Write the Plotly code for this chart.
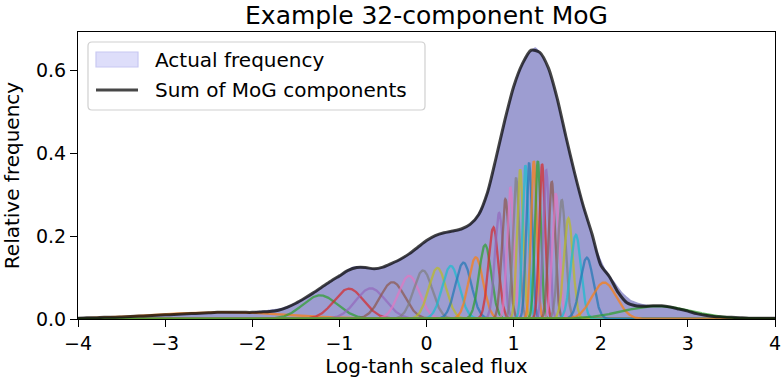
import numpy as np
import plotly.graph_objects as go

# ---------------- data ----------------
# Mixture-of-Gaussian components: centre, peak height, width
comp_means = [-2.35, -1.22, -0.89, -0.64, -0.39, -0.20, -0.04, 0.125, 0.279, 0.424,
              0.566, 0.673, 0.768, 0.834, 0.906, 0.963, 1.029, 1.075, 1.136, 1.178,
              1.232, 1.278, 1.327, 1.373, 1.438, 1.484, 1.553, 1.629, 1.714, 1.840,
              2.039, 2.650]
comp_peaks = [0.0165, 0.057, 0.073, 0.074, 0.089, 0.104, 0.117, 0.123, 0.128, 0.136,
              0.149, 0.179, 0.221, 0.256, 0.289, 0.317, 0.341, 0.361, 0.371, 0.377,
              0.381, 0.381, 0.374, 0.359, 0.331, 0.303, 0.287, 0.243, 0.203, 0.148,
              0.088, 0.031]
comp_sigmas = [0.75, 0.20, 0.17, 0.17, 0.14, 0.12, 0.107, 0.10, 0.098, 0.092,
               0.084, 0.070, 0.057, 0.049, 0.043, 0.039, 0.037, 0.035, 0.034, 0.033,
               0.033, 0.033, 0.033, 0.035, 0.038, 0.041, 0.044, 0.051, 0.060, 0.075,
               0.14, 0.40]

# Sum of MoG components, read along the x axis
sum_x = [round(-4.0 + 0.1 * i, 1) for i in range(81)]
sum_y = [0.002, 0.003, 0.003, 0.004, 0.004, 0.005, 0.006, 0.007, 0.008, 0.009,
         0.010, 0.011, 0.012, 0.013, 0.014, 0.015, 0.016, 0.016, 0.016, 0.016,
         0.016, 0.017, 0.018, 0.021, 0.028, 0.038, 0.050, 0.063, 0.077, 0.091,
         0.104, 0.117, 0.124, 0.124, 0.121, 0.125, 0.134, 0.144, 0.157, 0.173,
         0.189, 0.201, 0.208, 0.212, 0.217, 0.228, 0.252, 0.305, 0.390, 0.480,
         0.560, 0.615, 0.648, 0.643, 0.605, 0.532, 0.440, 0.352, 0.272, 0.205,
         0.130, 0.102, 0.064, 0.039, 0.032, 0.031, 0.032, 0.032, 0.029, 0.024,
         0.019, 0.013, 0.009, 0.006, 0.005, 0.004, 0.003, 0.002, 0.002, 0.002,
         0.002]

# Histogram of the actual data: bin centres and relative frequency
hist_centres = [round(-3.95 + 0.1 * i, 2) for i in range(80)]
hist_freq = [0.002, 0.003, 0.003, 0.004, 0.005, 0.005, 0.007, 0.008, 0.009, 0.010,
             0.011, 0.012, 0.013, 0.014, 0.015, 0.016, 0.016, 0.017, 0.017, 0.017,
             0.019, 0.021, 0.024, 0.028, 0.035, 0.045, 0.057, 0.071, 0.085, 0.099,
             0.113, 0.126, 0.127, 0.123, 0.123, 0.130, 0.140, 0.151, 0.165, 0.182,
             0.196, 0.206, 0.211, 0.215, 0.222, 0.240, 0.278, 0.345, 0.435, 0.522,
             0.592, 0.636, 0.655, 0.627, 0.572, 0.488, 0.398, 0.314, 0.240, 0.170,
             0.122, 0.092, 0.064, 0.046, 0.038, 0.034, 0.033, 0.032, 0.028, 0.023,
             0.017, 0.012, 0.008, 0.006, 0.005, 0.004, 0.003, 0.003, 0.002, 0.002]

title_text = "Example 32-component MoG"
x_label = "Log-tanh scaled flux"
y_label = "Relative frequency"
legend_labels = ["Actual frequency", "Sum of MoG components"]
x_ticks = [-4, -3, -2, -1, 0, 1, 2, 3, 4]
y_ticks = [0.0, 0.2, 0.4, 0.6]

# ---------------- styling ----------------
tab10 = ["#1f77b4", "#ff7f0e", "#2ca02c", "#d62728", "#9467bd",
         "#8c564b", "#e377c2", "#7f7f7f", "#bcbd22", "#17becf"]
FONT = "DejaVu Sans"
W, H = 781, 385
ML, MR, MT, MB = 78, 6, 32, 66
PW, PH = W - ML - MR, H - MT - MB
SUM_COLOR = "rgba(0,0,0,0.72)"
HIST_FILL = "rgb(157,157,209)"
PATCH_FILL = "rgb(222,222,250)"
PATCH_EDGE = "rgb(200,200,242)"


def px(xp):   # figure pixel -> paper x
    return (xp - ML) / PW


def py(yp):   # figure pixel -> paper y
    return (H - MB - yp) / PH


xs = np.linspace(-4, 4, 1601)
comps = [p * np.exp(-0.5 * ((xs - m) / s) ** 2)
         for m, p, s in zip(comp_means, comp_peaks, comp_sigmas)]

fig = go.Figure()

fig.add_trace(go.Scatter(
    x=hist_centres, y=hist_freq, mode="lines", fill="tozeroy",
    fillcolor=HIST_FILL, line=dict(width=0, shape="spline", smoothing=0.6),
    name=legend_labels[0], showlegend=False, hoverinfo="skip"))

for k, c in enumerate(comps):
    fig.add_trace(go.Scatter(
        x=xs, y=c, mode="lines", opacity=0.7,
        line=dict(color=tab10[(k + 1) % 10], width=2.3),
        showlegend=False, hoverinfo="skip"))

fig.add_trace(go.Scatter(
    x=sum_x, y=sum_y, mode="lines", name=legend_labels[1],
    line=dict(color=SUM_COLOR, width=3, shape="spline", smoothing=0.7),
    showlegend=False))

# ---- legend drawn like the matplotlib one ----
bx0, bx1, by0, by1, r = 88, 425, 42, 110, 4
rx, ry = r / PW, r / PH
X0, X1, Y0, Y1 = px(bx0), px(bx1), py(by1), py(by0)
box_path = (f"M{X0+rx},{Y0} L{X1-rx},{Y0} Q{X1},{Y0} {X1},{Y0+ry} "
            f"L{X1},{Y1-ry} Q{X1},{Y1} {X1-rx},{Y1} L{X0+rx},{Y1} "
            f"Q{X0},{Y1} {X0},{Y1-ry} L{X0},{Y0+ry} Q{X0},{Y0} {X0+rx},{Y0} Z")
shapes = [
    dict(type="path", xref="paper", yref="paper", path=box_path,
         fillcolor="rgba(255,255,255,0.8)", line=dict(color="#d0d0d0", width=1.2),
         layer="above"),
    dict(type="rect", xref="paper", yref="paper",
         x0=px(96), x1=px(138), y0=py(67), y1=py(52),
         fillcolor=PATCH_FILL, line=dict(color=PATCH_EDGE, width=1.2), layer="above"),
    dict(type="line", xref="paper", yref="paper",
         x0=px(96), x1=px(138), y0=py(90), y1=py(90),
         line=dict(color=SUM_COLOR, width=3), layer="above"),
]
annotations = [
    dict(text=legend_labels[0], xref="paper", yref="paper", x=px(153), y=py(60),
         xanchor="left", yanchor="middle", showarrow=False,
         font=dict(family=FONT, size=20, color="black")),
    dict(text=legend_labels[1], xref="paper", yref="paper", x=px(153), y=py(90),
         xanchor="left", yanchor="middle", showarrow=False,
         font=dict(family=FONT, size=20, color="black")),
]

axis_common = dict(
    showgrid=False, zeroline=False, showline=True, mirror=True,
    linecolor="black", linewidth=1.2, ticks="outside", ticklen=7,
    tickwidth=1.2, tickcolor="black", automargin=False,
    ticklabeloverflow="allow",
    tickfont=dict(family=FONT, size=19, color="black"),
)

fig.update_layout(
    width=W, height=H,
    margin=dict(l=ML, r=MR, t=MT, b=MB),
    paper_bgcolor="white", plot_bgcolor="white",
    font=dict(family=FONT, color="black"),
    title=dict(text=title_text, x=(ML + PW / 2) / W, xanchor="center",
               y=1 - 15 / H, yanchor="middle",
               font=dict(family=FONT, size=25, color="black")),
    xaxis=dict(range=[-4, 4], tickvals=x_ticks,
               title=dict(text=x_label, font=dict(family=FONT, size=20), standoff=6),
               **axis_common),
    yaxis=dict(range=[0, 0.692], tickvals=y_ticks, tickformat=".1f",
               title=dict(text=y_label, font=dict(family=FONT, size=20), standoff=12),
               **axis_common),
    shapes=shapes, annotations=annotations,
    showlegend=False,
)

fig.write_html("out.html", config={"displayModeBar": False},
               post_script="document.body.style.margin='0px';")
